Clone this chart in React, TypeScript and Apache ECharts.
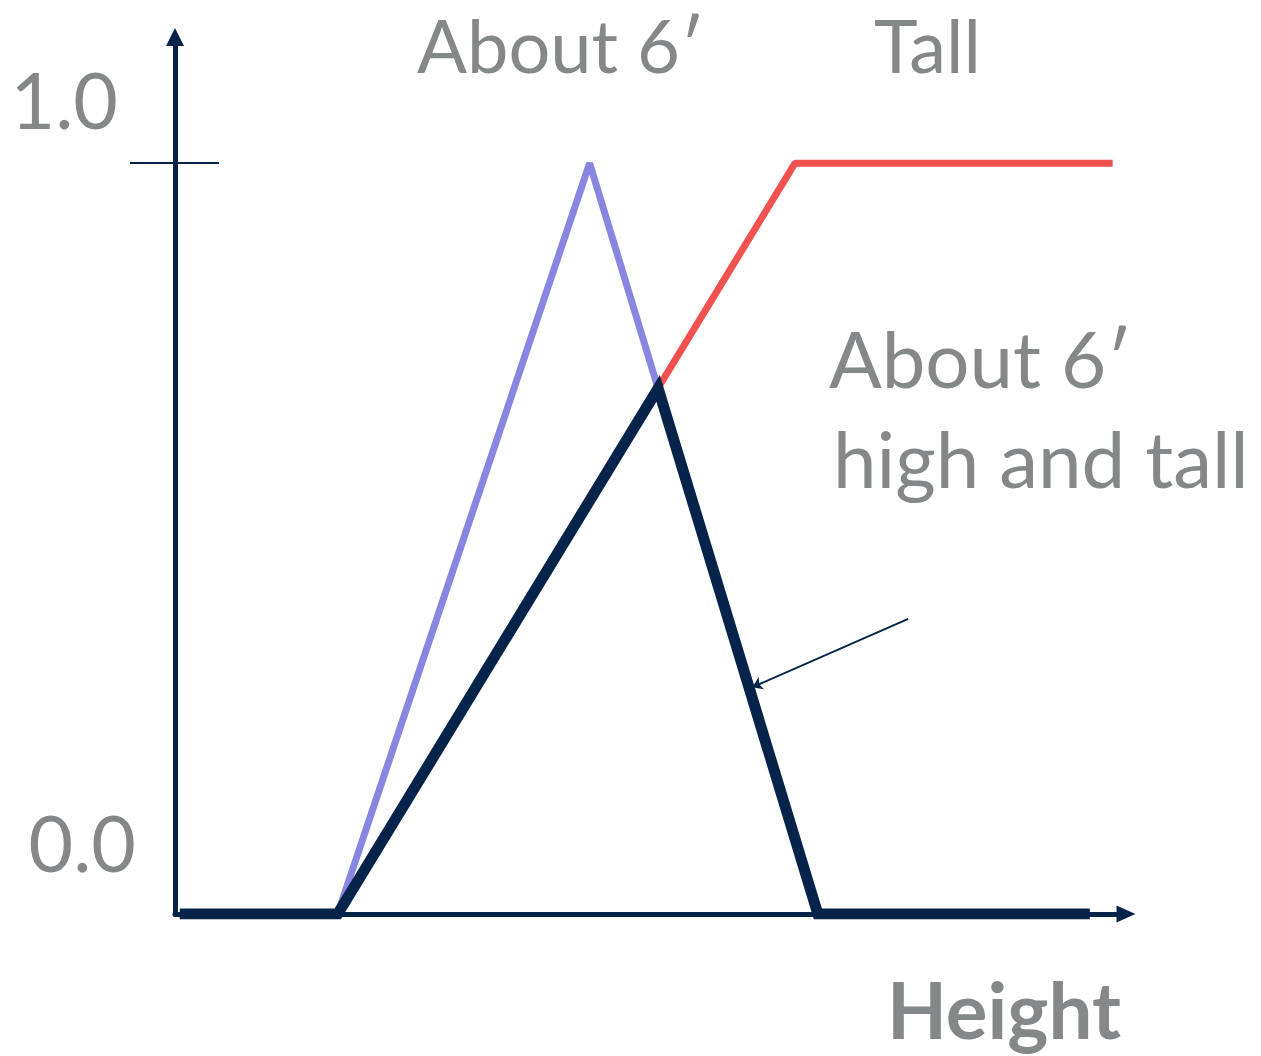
import React, { useEffect, useRef } from "react";
import * as echarts from "echarts";

// Membership functions over height (x on a 0–100 scale, y = degree of membership)
const aboutSix: [number, number][] = [
  [17.1, 0],
  [43.6, 1],
  [67.6, 0],
];
const tall: [number, number][] = [
  [17.1, 0],
  [65.2, 1],
  [98.6, 1],
];
// Intersection (minimum) of "About 6′" and "Tall"
const highAndTall: [number, number][] = [
  [0.5, 0],
  [17.1, 0],
  [50.8, 0.7],
  [67.6, 0],
  [96.2, 0],
];
const yLabelValues = [0, 1];
const yTickValues = [1];
const annotationFrom: [number, number] = [77.1, 0.393];
const annotationTo: [number, number] = [60.7, 0.302];

const NAVY = "#06244a";
const PURPLE = "#8886e0";
const RED = "#f05250";
const GRAY = "#848888";
const FONT = "Lato, 'Noto Sans', sans-serif";

export default function App() {
  const ref = useRef<HTMLDivElement>(null);

  useEffect(() => {
    if (!ref.current) return;
    const chart = echarts.init(ref.current, undefined, { renderer: "svg" });

    const yMax = 1.168;

    chart.setOption({
      animation: false,
      backgroundColor: "#ffffff",
      grid: { left: 175, right: 135, top: 37, bottom: 142, containLabel: false },
      xAxis: {
        type: "value",
        min: 0,
        max: 100,
        axisLine: {
          show: true,
          symbol: ["none", "triangle"],
          symbolSize: [17, 19],
          lineStyle: { color: NAVY, width: 5 },
        },
        axisTick: { show: false },
        axisLabel: { show: false },
        splitLine: { show: false },
      },
      yAxis: [
        {
          type: "value",
          position: "left",
          offset: 0,
          min: 0,
          max: yMax,
          axisLine: {
            show: true,
            symbol: ["none", "triangle"],
            symbolSize: [18, 18],
            lineStyle: { color: NAVY, width: 5 },
          },
          axisTick: {
            show: true,
            customValues: yTickValues,
            length: 45,
            lineStyle: { color: NAVY, width: 2 },
          },
          axisLabel: {
            show: true,
            customValues: yLabelValues,
            margin: 39,
            verticalAlign: "bottom",
            formatter: (v: number) =>
              v === 1 ? `{hi|${v.toFixed(1)}}` : `{lo|${v.toFixed(1)}}`,
            rich: {
              hi: {
                fontFamily: FONT,
                fontSize: 77,
                lineHeight: 77,
                color: GRAY,
                padding: [0, 18, 52, 0],
              },
              lo: {
                fontFamily: FONT,
                fontSize: 77,
                lineHeight: 77,
                color: GRAY,
                padding: [0, 0, 67, 0],
              },
            },
          },
          splitLine: { show: false },
        },
        {
          type: "value",
          position: "left",
          offset: 0,
          min: 0,
          max: yMax,
          axisLine: { show: false },
          axisTick: {
            show: true,
            inside: true,
            customValues: yTickValues,
            length: 44,
            lineStyle: { color: NAVY, width: 2 },
          },
          axisLabel: { show: false },
          splitLine: { show: false },
        },
      ],
      series: [
        {
          name: "Tall",
          type: "line",
          data: tall,
          symbol: "none",
          lineStyle: { color: RED, width: 7 },
          z: 2,
        },
        {
          name: "About 6′",
          type: "line",
          data: aboutSix,
          symbol: "none",
          lineStyle: { color: PURPLE, width: 7 },
          z: 3,
        },
        {
          name: "About 6′ high and tall",
          type: "line",
          data: highAndTall,
          symbol: "none",
          lineStyle: { color: NAVY, width: 11, join: "miter" },
          z: 4,
          markLine: {
            silent: true,
            symbol: ["none", "arrow"],
            symbolSize: 10,
            label: { show: false },
            lineStyle: { color: NAVY, width: 2, type: "solid" },
            data: [[{ coord: annotationFrom }, { coord: annotationTo }]],
          },
        },
      ],
      graphic: [
        {
          type: "text",
          x: 417,
          y: 44,
          style: {
            text: "About 6′",
            font: `74px ${FONT}`,
            fill: GRAY,
            align: "left",
            verticalAlign: "middle",
          },
        },
        {
          type: "text",
          x: 874,
          y: 44,
          style: {
            text: "Tall",
            font: `74px ${FONT}`,
            fill: GRAY,
            align: "left",
            verticalAlign: "middle",
          },
        },
        {
          type: "text",
          x: 829,
          y: 358,
          style: {
            text: "About 6′",
            font: `78px ${FONT}`,
            fill: GRAY,
            align: "left",
            verticalAlign: "middle",
          },
        },
        {
          type: "text",
          x: 833,
          y: 458,
          style: {
            text: "high and tall",
            font: `78px ${FONT}`,
            fill: GRAY,
            align: "left",
            verticalAlign: "middle",
          },
        },
        {
          type: "text",
          x: 1121,
          y: 1009,
          style: {
            text: "Height",
            font: `bold 78px ${FONT}`,
            fill: GRAY,
            align: "right",
            verticalAlign: "middle",
          },
        },
      ],
    });

    return () => chart.dispose();
  }, []);

  return (
    <div
      ref={ref}
      style={{ position: "absolute", left: 0, top: 0, width: 1261, height: 1056 }}
    />
  );
}
